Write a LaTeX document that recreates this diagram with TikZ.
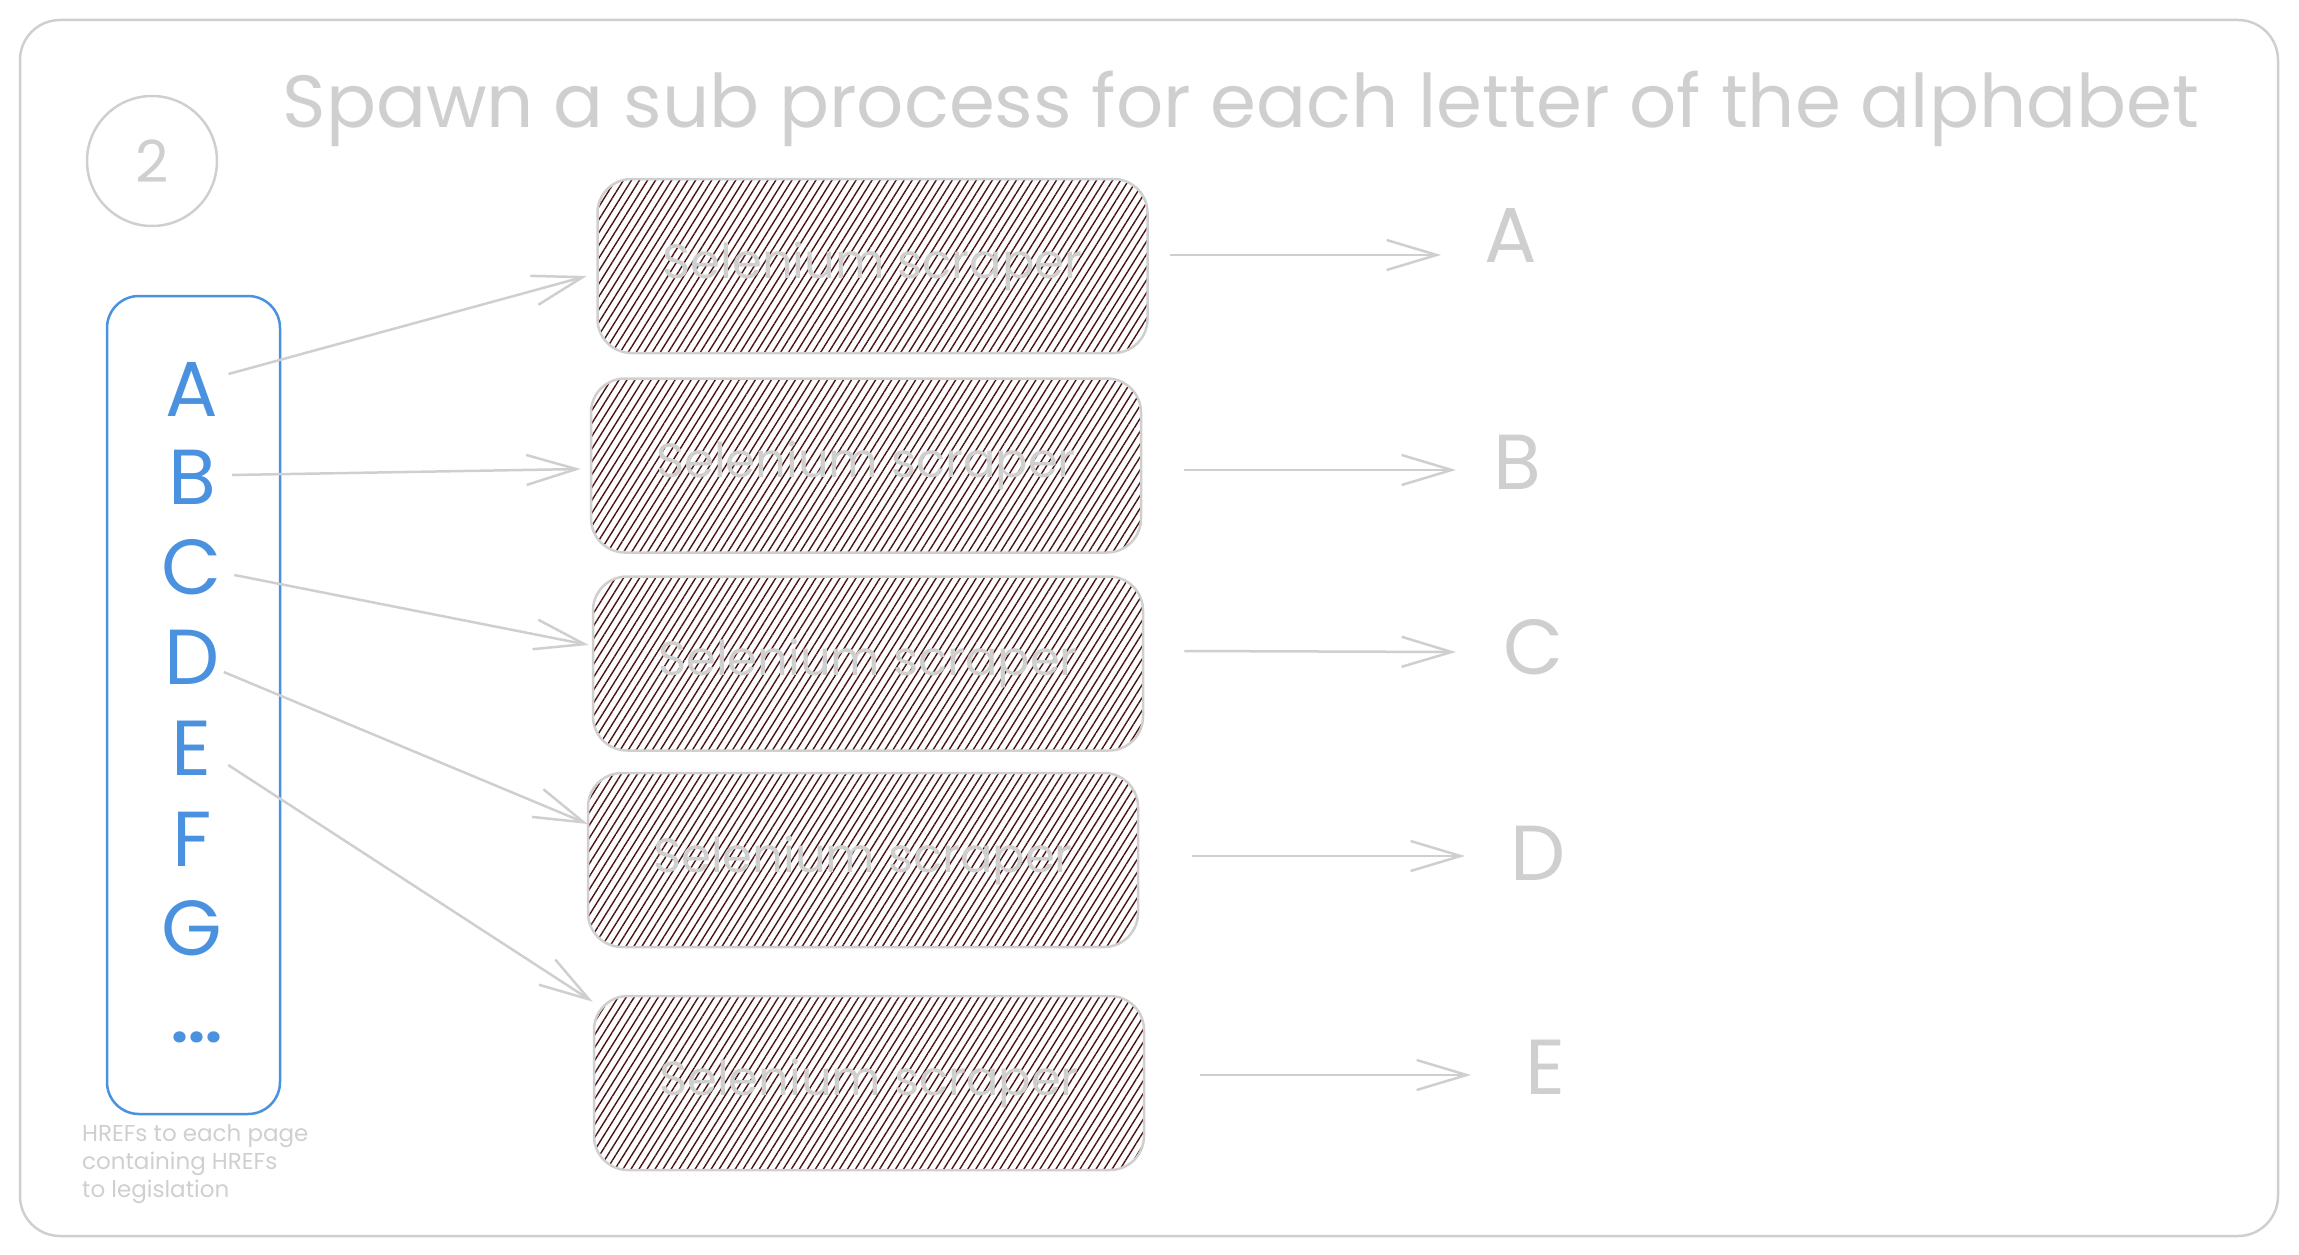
\documentclass[tikz,border=0pt]{standalone}
\usepackage{fontspec}
\setmainfont{Poppins}
\usetikzlibrary{arrows.meta,patterns.meta,calc}
\definecolor{sk}{HTML}{CFCFCF}
\definecolor{bl}{HTML}{4A92E0}
\definecolor{hat}{HTML}{4A1414}
\begin{document}
\begin{tikzpicture}[x=1pt,y=-1pt,
  frame/.style={draw=sk, line width=2.5pt, rounded corners=40pt},
  scrbox/.style={draw=sk, line width=2.5pt, rounded corners=34pt,
    minimum width=550pt, minimum height=174pt, inner sep=0pt,
    pattern={Lines[angle=58,distance=6.8pt,line width=1.4pt]}, pattern color=hat,
    text=sk, font=\fontsize{48}{56}\selectfont},
  bluebox/.style={draw=bl, line width=2.5pt, rounded corners=32pt, inner sep=0pt},
  bluelet/.style={text=bl, font=\fontsize{78}{90}\selectfont, inner sep=2pt},
  outlet/.style={text=sk, font=\fontsize{78}{90}\selectfont, inner sep=0pt, anchor=west},
  arr/.style={draw=sk, line width=2.5pt, -{Straight Barb[length=50pt,width=30pt]}},
]
\useasboundingbox (0,0) rectangle (2299,1255);
% outer frame
\draw[frame] (20,20) rectangle (2278,1236);
% step number
\node[circle, draw=sk, line width=2.5pt, minimum size=130pt, text=sk,
  font=\fontsize{58}{64}\selectfont] (num) at (152,161) {2};
% title
\node[text=sk, inner sep=0pt] (title) at (1241,109)
  {\resizebox{1916pt}{!}{Spawn a sub process for each letter of the alphabet}};
% letter list
\node[bluebox, minimum width=173pt, minimum height=818pt] (list) at (193.5,705) {};
\node[bluelet] (lA) at (192,389) {A};
\node[bluelet] (lB) at (192,477) {B};
\node[bluelet] (lC) at (192,567) {C};
\node[bluelet] (lD) at (192,657) {D};
\node[bluelet] (lE) at (192,748) {E};
\node[bluelet] (lF) at (192,839) {F};
\node[bluelet] (lG) at (192,928) {G};
\node[bluelet, font=\bfseries\fontsize{60}{70}\selectfont] (ldots) at (197,1037) {...};
\node[text=sk, anchor=north west, align=left, inner sep=0pt,
  font=\fontsize{23}{28}\selectfont] (note) at (82,1124)
  {HREFs to each page\\containing HREFs\\to legislation};
% scraper boxes
\node[scrbox] (b1) at (872.5,266) {Selenium scraper};
\node[scrbox] (b2) at (866,465.5) {Selenium scraper};
\node[scrbox] (b3) at (868,663.5) {Selenium scraper};
\node[scrbox] (b4) at (863,860) {Selenium scraper};
\node[scrbox] (b5) at (869,1083) {Selenium scraper};
% output labels
\node[outlet] (rA) at (1484,235) {A};
\node[outlet] (rB) at (1493,462) {B};
\node[outlet] (rC) at (1503,647) {C};
\node[outlet] (rD) at (1510,853) {D};
\node[outlet] (rE) at (1525,1067) {E};
% connectors letters -> boxes
\draw[arr] ([xshift=8pt,yshift=15pt]lA.east) -- ([xshift=-10pt,yshift=-10pt]b1.west);
\draw[arr] ([xshift=14pt,yshift=2pt]lB.east) -- ([xshift=-9pt,yshift=-3.5pt]b2.west);
\draw[arr] ([xshift=10pt,yshift=-8pt]lC.east) -- ([xshift=-3pt,yshift=18.5pt]b3.west);
\draw[arr] ([xshift=2pt,yshift=-15pt]lD.east) -- ([xshift=1pt,yshift=36pt]b4.west);
\draw[arr] ([xshift=14pt,yshift=-17pt]lE.east) -- ([yshift=-7pt]b5.north west);
% connectors boxes -> outputs
\draw[arr] ([xshift=22pt,yshift=11pt]b1.east) -- ([xshift=-43pt,yshift=-20pt]rA.west);
\draw[arr] ([xshift=42pt,yshift=-4.5pt]b2.east) -- ([xshift=-37pt,yshift=-8pt]rB.west);
\draw[arr] ([xshift=40pt,yshift=12.5pt]b3.east) -- ([xshift=-47pt,yshift=-5pt]rC.west);
\draw[arr] ([xshift=53pt,yshift=4pt]b4.east) -- ([xshift=-45pt,yshift=-3pt]rD.west);
\draw[arr] ([xshift=55pt,yshift=8pt]b5.east) -- ([xshift=-54pt,yshift=-8pt]rE.west);
\end{tikzpicture}
\end{document}
